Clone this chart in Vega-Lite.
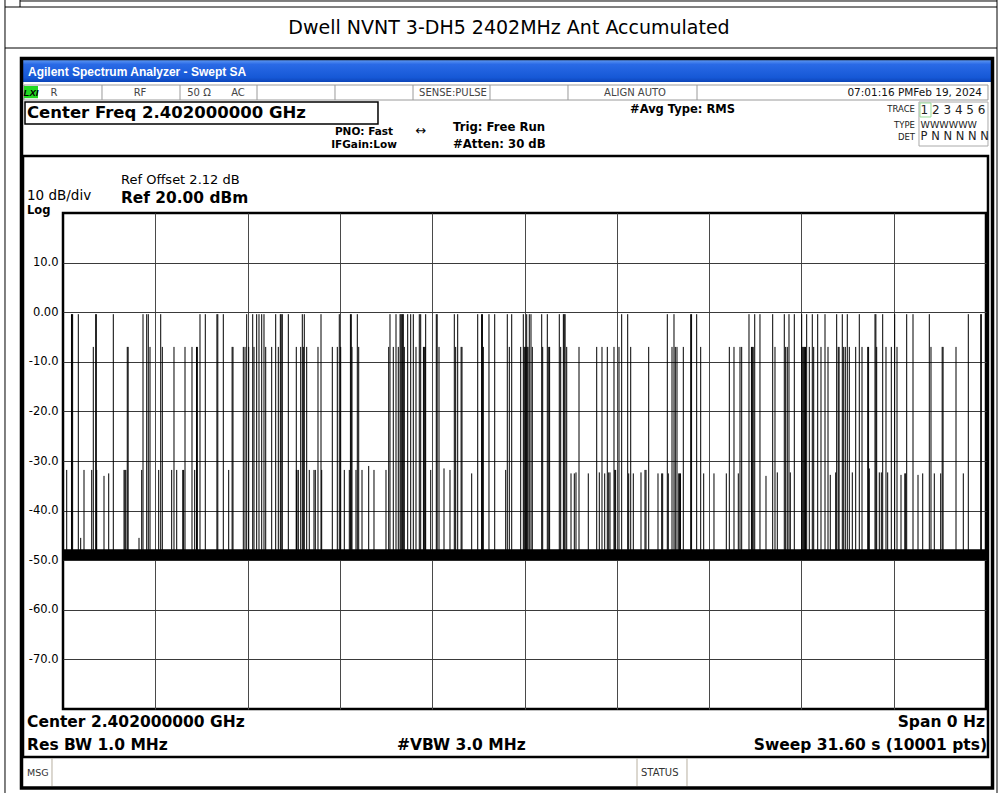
{
"$schema": "https://vega.github.io/schema/vega-lite/v6.json",
"width": 923, "height": 496,
"autosize": {"type": "none"},
"padding": {"left": 63, "top": 213, "right": 15, "bottom": 84},
"background": "white",
"config": {"view": {"stroke": "black", "strokeWidth": 2.5}},
"datasets": {
"spikes": [
{"t":0.127,"v":-31.8},{"t":0.29,"v":-0.4},{"t":0.31,"v":-0.4},{"t":0.33,"v":-0.4},{"t":0.524,"v":-0.4},{"t":0.606,"v":-45.5},{"t":0.719,"v":-31.8},{"t":0.983,"v":-31.8},{"t":1.037,"v":-7},{"t":1.12,"v":-0.4},{"t":1.14,"v":-0.4},{"t":1.154,"v":-31.8},{"t":1.404,"v":-33},{"t":1.565,"v":-32.5},{"t":1.722,"v":-0.4},{"t":2.09,"v":-31.8},{"t":2.12,"v":-31.8},{"t":2.15,"v":-31.8},{"t":2.2,"v":-7},{"t":2.23,"v":-7},{"t":2.602,"v":-45.5},{"t":2.694,"v":-31.8},{"t":2.739,"v":-0.4},{"t":2.866,"v":-0.4},{"t":2.92,"v":-0.4},{"t":2.979,"v":-7},{"t":3.276,"v":-31.8},{"t":3.345,"v":-0.4},{"t":3.4,"v":-7},{"t":3.721,"v":-31.8},{"t":3.8,"v":-7},{"t":3.893,"v":-31.8},{"t":4.1,"v":-31.8},{"t":4.13,"v":-31.8},{"t":4.177,"v":-7},{"t":4.416,"v":-7},{"t":4.509,"v":-31.8},{"t":4.57,"v":-7},{"t":4.6,"v":-7},{"t":4.69,"v":-0.4},{"t":4.872,"v":-0.4},{"t":5.27,"v":-0.4},{"t":5.3,"v":-0.4},{"t":5.488,"v":-0.4},{"t":5.673,"v":-31.8},{"t":5.79,"v":-7},{"t":5.82,"v":-7},{"t":6.173,"v":-7},{"t":6.231,"v":-7},{"t":6.289,"v":-0.4},{"t":6.358,"v":-7},{"t":6.495,"v":-0.4},{"t":6.539,"v":-7},{"t":6.631,"v":-0.4},{"t":6.71,"v":-0.4},{"t":6.803,"v":-0.4},{"t":6.881,"v":-0.4},{"t":6.94,"v":-7},{"t":7.145,"v":-7},{"t":7.282,"v":-0.4},{"t":7.371,"v":-7},{"t":7.44,"v":-0.4},{"t":7.47,"v":-0.4},{"t":7.508,"v":-0.4},{"t":7.714,"v":-0.4},{"t":7.987,"v":-7},{"t":7.99,"v":-31.8},{"t":8.01,"v":-31.8},{"t":8.056,"v":-31.8},
{"t":8.138,"v":-7},{"t":8.193,"v":-0.4},{"t":8.227,"v":-7},{"t":8.261,"v":-0.4},{"t":8.343,"v":-7},{"t":8.432,"v":-31.8},{"t":8.593,"v":-31.8},{"t":8.638,"v":-31.8},{"t":8.73,"v":-7},{"t":8.833,"v":-0.4},{"t":8.857,"v":-31.8},{"t":9.22,"v":-7},{"t":9.391,"v":-7},{"t":9.459,"v":-0.4},{"t":9.507,"v":-7},{"t":9.631,"v":-31.8},{"t":9.802,"v":-31.8},{"t":9.84,"v":-0.4},{"t":9.87,"v":-0.4},{"t":9.894,"v":-7},{"t":10.031,"v":-31.8},{"t":10.076,"v":-0.4},{"t":10.124,"v":-7},{"t":10.237,"v":-31.8},{"t":10.466,"v":-31},{"t":10.647,"v":-31.8},{"t":11.058,"v":-31.8},{"t":11.151,"v":-7},{"t":11.195,"v":-0.4},{"t":11.308,"v":-7},{"t":11.401,"v":-0.4},{"t":11.479,"v":-7},{"t":11.54,"v":-0.4},{"t":11.57,"v":-0.4},{"t":11.6,"v":-0.4},{"t":11.63,"v":-0.4},{"t":11.65,"v":-0.4},{"t":11.685,"v":-7},{"t":11.801,"v":-0.4},{"t":11.904,"v":-0.4},{"t":11.993,"v":-0.4},{"t":12.085,"v":-7},{"t":12.198,"v":-0.4},{"t":12.246,"v":-0.4},{"t":12.34,"v":-7},{"t":12.37,"v":-7},{"t":12.4,"v":-7},{"t":12.417,"v":-0.4},{"t":12.589,"v":-31.8},{"t":12.78,"v":-0.4},{"t":12.81,"v":-0.4},{"t":12.873,"v":-7},{"t":13.044,"v":-31.5},{"t":13.249,"v":-31.8},{"t":13.397,"v":-0.4},{"t":13.444,"v":-7},{"t":13.513,"v":-0.4},{"t":13.63,"v":-7},{"t":13.66,"v":-7},{"t":13.992,"v":-32.5},{"t":14.198,"v":-0.4},{"t":14.33,"v":-0.4},{"t":14.36,"v":-0.4},{"t":14.39,"v":-7},{"t":14.584,"v":-0.4},{"t":14.78,"v":-0.4},{"t":15.156,"v":-31.8},{"t":15.211,"v":-0.4},{"t":15.28,"v":-7},{"t":15.362,"v":-0.4},{"t":15.67,"v":-7},{"t":15.759,"v":-0.4},{"t":15.79,"v":-7},{"t":15.82,"v":-7},{"t":15.85,"v":-7},{"t":15.875,"v":-0.4},{"t":15.89,"v":-7},{"t":15.92,"v":-7},{"t":15.964,"v":-0.4},{"t":16.022,"v":-0.4},{"t":16.067,"v":-7},{"t":16.389,"v":-0.4},{"t":16.423,"v":-7},{"t":16.581,"v":-0.4},{"t":16.63,"v":-7},{"t":16.66,"v":-7},{"t":16.991,"v":-0.4},{"t":17.039,"v":-7},{"t":17.13,"v":-0.4},{"t":17.16,"v":-0.4},{"t":17.19,"v":-0.4},{"t":17.245,"v":-7},{"t":17.392,"v":-32.5},{"t":17.505,"v":-32.5},{"t":17.563,"v":-32.3},{"t":17.666,"v":-7},{"t":17.984,"v":-32.5},{"t":18.272,"v":-7},{"t":18.361,"v":-32.3},{"t":18.453,"v":-7},{"t":18.546,"v":-32.5},{"t":18.635,"v":-7},{"t":18.683,"v":-32.3},{"t":18.727,"v":-32.3},{"t":18.864,"v":-7},{"t":18.89,"v":-31.8},{"t":18.92,"v":-31.8},{"t":19.035,"v":-7},{"t":19.127,"v":-0.4},{"t":19.333,"v":-0.4},{"t":19.367,"v":-32.5},{"t":19.436,"v":-7},{"t":19.525,"v":-32.5},{"t":19.788,"v":-32.3},{"t":19.925,"v":-31.8},{"t":19.96,"v":-31.8},{"t":20.052,"v":-7},{"t":20.37,"v":-32.5},{"t":20.497,"v":-32.5},{"t":20.531,"v":-32.5},{"t":20.689,"v":-0.4},{"t":20.723,"v":-32.5},{"t":20.85,"v":-7},{"t":20.918,"v":-0.4},{"t":20.963,"v":-7},{"t":21.021,"v":-7},{"t":21.08,"v":-32.5},{"t":21.11,"v":-32.5},{"t":21.14,"v":-32.5},{"t":21.237,"v":-7},{"t":21.49,"v":-0.4},{"t":21.52,"v":-0.4},{"t":21.695,"v":-0.4},{"t":21.832,"v":-7},{"t":21.935,"v":-32.5},{"t":22.287,"v":-32.5},{"t":22.709,"v":-32.5},{"t":22.812,"v":-7},{"t":22.972,"v":-7},{"t":23.12,"v":-32.5},{"t":23.178,"v":-7},{"t":23.236,"v":-7},{"t":23.486,"v":-0.4},{"t":23.57,"v":-7},{"t":23.6,"v":-7},{"t":23.63,"v":-7},{"t":23.682,"v":-0.4},{"t":23.862,"v":-0.4},{"t":24.068,"v":-33},{"t":24.297,"v":-0.4},{"t":24.376,"v":-7},{"t":24.455,"v":-32.3},{"t":24.694,"v":-0.4},{"t":24.742,"v":-7},{"t":24.797,"v":-7},{"t":24.855,"v":-0.4},{"t":24.9,"v":-32.3},{"t":25.037,"v":-0.4},{"t":25.29,"v":-0.4},{"t":25.3,"v":-7},{"t":25.33,"v":-7},{"t":25.36,"v":-7},{"t":25.39,"v":-7},{"t":25.42,"v":-7},{"t":25.461,"v":-0.4},{"t":25.55,"v":-7},{"t":25.653,"v":-0.4},{"t":25.701,"v":-7},{"t":25.838,"v":-0.4},{"t":25.951,"v":-7},{"t":26.088,"v":-0.4},{"t":26.191,"v":-7},{"t":26.269,"v":-32.8},{"t":26.454,"v":-32.3},{"t":26.488,"v":-0.4},{"t":26.54,"v":-7},{"t":26.57,"v":-7},{"t":26.68,"v":-0.4},{"t":26.728,"v":-7},{"t":26.783,"v":-7},{"t":26.851,"v":-0.4},{"t":26.92,"v":-7},{"t":27.023,"v":-32.3},{"t":27.139,"v":-7},{"t":27.262,"v":-0.4},{"t":27.355,"v":-7},{"t":27.55,"v":-7},{"t":27.58,"v":-7},{"t":27.604,"v":-31.5},{"t":27.8,"v":-0.4},{"t":27.83,"v":-0.4},{"t":27.858,"v":-7},{"t":27.947,"v":-32.3},{"t":28.016,"v":-32.3},{"t":28.063,"v":-0.4},{"t":28.176,"v":-7},{"t":28.234,"v":-32.3},{"t":28.358,"v":-7},{"t":28.474,"v":-0.4},{"t":28.553,"v":-7},{"t":28.69,"v":-32.8},{"t":28.82,"v":-32.5},{"t":28.85,"v":-32.5},{"t":28.885,"v":-0.4},{"t":29.101,"v":-0.4},{"t":29.272,"v":-32.8},{"t":29.433,"v":-32.5},{"t":29.659,"v":-0.4},{"t":29.717,"v":-7},{"t":29.83,"v":-32.5},{"t":30.049,"v":-32.5},{"t":30.1,"v":-7},{"t":30.13,"v":-7},{"t":30.573,"v":-7},{"t":30.823,"v":-32.5},{"t":30.994,"v":-0.4},{"t":31.42,"v":-0.4},{"t":31.44,"v":-0.4}
],
"noise": [{"t":0,"lo":-50,"hi":-47.8},{"t":31.6,"lo":-50,"hi":-47.8}]
},
"layer": [
{"data":{"values":[{}]},"mark":{"type":"rule","color":"black","strokeWidth":1},"encoding":{"x":{"datum":-1.472},"y":{"datum":62.742},"x2":{"datum":31.977}}},
{"data":{"values":[{}]},"mark":{"type":"rule","color":"black","strokeWidth":1},"encoding":{"x":{"datum":-1.986},"y":{"datum":61.532},"x2":{"datum":31.977}}},
{"data":{"values":[{}]},"mark":{"type":"rule","color":"black","strokeWidth":1},"encoding":{"x":{"datum":-1.986},"y":{"datum":53.266},"x2":{"datum":31.977}}},
{"data":{"values":[{}]},"mark":{"type":"rule","color":"black","strokeWidth":1},"encoding":{"x":{"datum":-1.986},"y":{"datum":62.943},"y2":{"datum":-96.935}}},
{"data":{"values":[{}]},"mark":{"type":"rule","color":"black","strokeWidth":1},"encoding":{"x":{"datum":31.977},"y":{"datum":62.943},"y2":{"datum":-96.935}}},
{"data":{"values":[{}]},"mark":{"type":"rule","color":"black","strokeWidth":1},"encoding":{"x":{"datum":-1.472},"y":{"datum":62.943},"y2":{"datum":61.532}}},
{"data":{"values":[{}]},"mark":{"type":"rect","color":{"gradient":"linear","x1":0,"y1":0,"x2":0,"y2":1,"stops":[{"offset":0,"color":"#5d97f2"},{"offset":0.2,"color":"#2a6ae6"},{"offset":0.8,"color":"#1658d6"},{"offset":1,"color":"#0c44b8"}]}},"encoding":{"x":{"datum":-1.369},"x2":{"datum":31.771},"y":{"datum":50.847},"y2":{"datum":46.411}}},
{"data":{"values":[{}]},"mark":{"type":"rect","fill":"white","stroke":"#9a9a9a","strokeWidth":1},"encoding":{"x":{"datum":-1.335},"x2":{"datum":31.668},"y":{"datum":45.806},"y2":{"datum":42.782}}},
{"data":{"values":[{"d":1.335},{"d":4.006},{"d":6.642},{"d":9.312},{"d":11.983},{"d":14.619},{"d":17.289},{"d":21.706}]},"mark":{"type":"rule","color":"#9a9a9a","strokeWidth":1},"encoding":{"x":{"field":"d","type":"quantitative","title":null},"y":{"datum":45.806},"y2":{"datum":42.782}}},
{"data":{"values":[{}]},"mark":{"type":"rect","fill":"#22d822"},"encoding":{"x":{"datum":-1.335},"x2":{"datum":-0.856},"y":{"datum":45.605},"y2":{"datum":43.145}}},
{"data":{"values":[{}]},"mark":{"type":"rect","fill":null,"stroke":"black","strokeWidth":1.5},"encoding":{"x":{"datum":-1.301},"x2":{"datum":10.784},"y":{"datum":42.379},"y2":{"datum":37.944}}},
{"data":{"values":[{}]},"mark":{"type":"rect","fill":null,"stroke":"#aaaaaa","strokeWidth":1},"encoding":{"x":{"datum":29.306},"x2":{"datum":31.668},"y":{"datum":42.379},"y2":{"datum":33.508}}},
{"data":{"values":[{}]},"mark":{"type":"rect","fill":null,"stroke":"#99dd99","strokeWidth":1},"encoding":{"x":{"datum":29.34},"x2":{"datum":29.717},"y":{"datum":42.177},"y2":{"datum":39.355}}},
{"data":{"values":[{}]},"mark":{"type":"rect","fill":null,"stroke":"black","strokeWidth":2.5},"encoding":{"x":{"datum":-1.369},"x2":{"datum":31.668},"y":{"datum":31.492},"y2":{"datum":-89.677}}},
{"data":{"values":[{"d":-0.377},{"d":19.652},{"d":21.363}]},"mark":{"type":"rule","color":"#b8b0a0","strokeWidth":1},"encoding":{"x":{"field":"d","type":"quantitative","title":null},"y":{"datum":-89.879},"y2":{"datum":-95.524}}},
{"data":{"values":[{}]},"mark":{"type":"rect","fill":null,"stroke":"black","strokeWidth":3.5},"encoding":{"x":{"datum":-1.421},"x2":{"datum":31.823},"y":{"datum":51.149},"y2":{"datum":-95.927}}},
{"data":{"name":"noise"},"mark":{"type":"area","color":"black","clip":true},"encoding":{"x":{"field":"t","type":"quantitative","title":null},"y":{"field":"lo","type":"quantitative","title":null},"y2":{"field":"hi"}}},
{"data":{"name":"spikes"},"mark":{"type":"rule","color":"black","strokeWidth":1,"clip":true},
 "encoding":{
  "x":{"field":"t","type":"quantitative","title":null,"scale":{"domain":[0,31.6],"nice":false,"zero":false},
       "axis":{"values":[3.16,6.32,9.48,12.64,15.8,18.96,22.12,25.28,28.44],"labels":false,"ticks":false,"domain":false,"grid":true,"gridColor":"#4a4a4a","gridWidth":1,"gridOpacity":1,"title":null}},
  "y":{"field":"v","type":"quantitative","title":null,"scale":{"domain":[-80,20],"nice":false,"zero":false},
       "axis":{"values":[10,0,-10,-20,-30,-40,-50,-60,-70],"labelExpr":"datum.value == 0 ? '0.00' : (datum.value < 0 ? '-' : '') + format(abs(datum.value), '.1f')","ticks":false,"domain":false,"grid":true,"gridColor":"#3a3a3a","gridWidth":1,"gridOpacity":1,"labelFont":"DejaVu Sans","labelFontSize":11.5,"labelColor":"black","labelPadding":5,"title":null}},
  "y2":{"datum":-48.5}}},
{"data":{"values":[{"label":"Dwell NVNT 3-DH5 2402MHz Ant Accumulated"}]},"mark":{"type":"text","align":"center","baseline":"middle","font":"DejaVu Sans","fontSize":19,"color":"black"},"encoding":{"x":{"datum":15.269},"y":{"datum":57.298},"text":{"field":"label"}}},
{"data":{"values":[{"label":"Agilent Spectrum Analyzer - Swept SA"}]},"mark":{"type":"text","align":"left","baseline":"middle","font":"Liberation Sans","fontSize":12,"fontWeight":"bold","color":"white"},"encoding":{"x":{"datum":-1.198},"y":{"datum":48.427},"text":{"field":"label"}}},
{"data":{"values":[{"label":"LXI"}]},"mark":{"type":"text","align":"center","baseline":"middle","font":"Liberation Sans","fontSize":9.5,"fontWeight":"bold","fontStyle":"italic","color":"black"},"encoding":{"x":{"datum":-1.096},"y":{"datum":44.294},"text":{"field":"label"}}},
{"data":{"values":[{"label":"R","p":-0.308},{"label":"RF","p":2.636},{"label":"50 Ω","p":4.656},{"label":"AC","p":5.991},{"label":"SENSE:PULSE","p":13.352},{"label":"ALIGN AUTO","p":19.583}]},"mark":{"type":"text","align":"center","baseline":"middle","font":"DejaVu Sans","fontSize":10,"color":"#444444"},"encoding":{"x":{"field":"p","type":"quantitative","title":null},"y":{"datum":44.294},"text":{"field":"label"}}},
{"data":{"values":[{"label":"07:01:16 PMFeb 19, 2024"}]},"mark":{"type":"text","align":"right","baseline":"middle","font":"DejaVu Sans","fontSize":10.5,"color":"#111111"},"encoding":{"x":{"datum":31.463},"y":{"datum":44.294},"text":{"field":"label"}}},
{"data":{"values":[{"label":"Center Freq 2.402000000 GHz"}]},"mark":{"type":"text","align":"left","baseline":"middle","font":"DejaVu Sans","fontSize":16.5,"fontWeight":"bold","color":"black"},"encoding":{"x":{"datum":-1.233},"y":{"datum":40.161},"text":{"field":"label"}}},
{"data":{"values":[{"label":"PNO: Fast"}]},"mark":{"type":"text","align":"center","baseline":"middle","font":"DejaVu Sans","fontSize":10.5,"fontWeight":"bold","color":"black"},"encoding":{"x":{"datum":10.305},"y":{"datum":36.431},"text":{"field":"label"}}},
{"data":{"values":[{"label":"IFGain:Low"}]},"mark":{"type":"text","align":"center","baseline":"middle","font":"DejaVu Sans","fontSize":10.5,"fontWeight":"bold","color":"black"},"encoding":{"x":{"datum":10.305},"y":{"datum":33.609},"text":{"field":"label"}}},
{"data":{"values":[{"label":"↔"}]},"mark":{"type":"text","align":"center","baseline":"middle","font":"DejaVu Sans","fontSize":13,"color":"black"},"encoding":{"x":{"datum":12.256},"y":{"datum":36.6},"text":{"field":"label"}}},
{"data":{"values":[{"label":"Trig: Free Run"}]},"mark":{"type":"text","align":"left","baseline":"middle","font":"DejaVu Sans","fontSize":11.7,"fontWeight":"bold","color":"black"},"encoding":{"x":{"datum":13.352},"y":{"datum":37.339},"text":{"field":"label"}}},
{"data":{"values":[{"label":"#Atten: 30 dB"}]},"mark":{"type":"text","align":"left","baseline":"middle","font":"DejaVu Sans","fontSize":11.7,"fontWeight":"bold","color":"black"},"encoding":{"x":{"datum":13.352},"y":{"datum":34.012},"text":{"field":"label"}}},
{"data":{"values":[{"label":"#Avg Type: RMS"}]},"mark":{"type":"text","align":"left","baseline":"middle","font":"DejaVu Sans","fontSize":11.5,"fontWeight":"bold","color":"black"},"encoding":{"x":{"datum":19.412},"y":{"datum":40.766},"text":{"field":"label"}}},
{"data":{"values":[{"label":"TRACE"}]},"mark":{"type":"text","align":"right","baseline":"middle","font":"DejaVu Sans","fontSize":8.5,"color":"#222222"},"encoding":{"x":{"datum":29.169},"y":{"datum":40.968},"text":{"field":"label"}}},
{"data":{"values":[{"label":"TYPE"}]},"mark":{"type":"text","align":"right","baseline":"middle","font":"DejaVu Sans","fontSize":8.5,"color":"#222222"},"encoding":{"x":{"datum":29.169},"y":{"datum":37.742},"text":{"field":"label"}}},
{"data":{"values":[{"label":"DET"}]},"mark":{"type":"text","align":"right","baseline":"middle","font":"DejaVu Sans","fontSize":8.5,"color":"#222222"},"encoding":{"x":{"datum":29.169},"y":{"datum":35.323},"text":{"field":"label"}}},
{"data":{"values":[{"label":"1 2 3 4 5 6"}]},"mark":{"type":"text","align":"left","baseline":"middle","font":"DejaVu Sans","fontSize":12,"color":"#222222"},"encoding":{"x":{"datum":29.36},"y":{"datum":40.766},"text":{"field":"label"}}},
{"data":{"values":[{"label":"WWWWWW"}]},"mark":{"type":"text","align":"left","baseline":"middle","font":"DejaVu Sans","fontSize":9.5,"color":"#222222"},"encoding":{"x":{"datum":29.36},"y":{"datum":37.742},"text":{"field":"label"}}},
{"data":{"values":[{"label":"P N N N N N"}]},"mark":{"type":"text","align":"left","baseline":"middle","font":"DejaVu Sans","fontSize":11.5,"color":"#222222"},"encoding":{"x":{"datum":29.36},"y":{"datum":35.323},"text":{"field":"label"}}},
{"data":{"values":[{"label":"Ref Offset 2.12 dB"}]},"mark":{"type":"text","align":"left","baseline":"middle","font":"DejaVu Sans","fontSize":13,"color":"black"},"encoding":{"x":{"datum":1.986},"y":{"datum":26.653},"text":{"field":"label"}}},
{"data":{"values":[{"label":"Ref 20.00 dBm"}]},"mark":{"type":"text","align":"left","baseline":"middle","font":"DejaVu Sans","fontSize":15.4,"fontWeight":"bold","color":"black"},"encoding":{"x":{"datum":1.986},"y":{"datum":23.024},"text":{"field":"label"}}},
{"data":{"values":[{"label":"10 dB/div"}]},"mark":{"type":"text","align":"left","baseline":"middle","font":"DejaVu Sans","fontSize":13.5,"color":"black"},"encoding":{"x":{"datum":-1.232},"y":{"datum":23.4},"text":{"field":"label"}}},
{"data":{"values":[{"label":"Log"}]},"mark":{"type":"text","align":"left","baseline":"middle","font":"DejaVu Sans","fontSize":11.5,"fontWeight":"bold","color":"black"},"encoding":{"x":{"datum":-1.232},"y":{"datum":20.5},"text":{"field":"label"}}},
{"data":{"values":[{"label":"Center 2.402000000 GHz"}]},"mark":{"type":"text","align":"left","baseline":"middle","font":"DejaVu Sans","fontSize":15.5,"fontWeight":"bold","color":"black"},"encoding":{"x":{"datum":-1.232},"y":{"datum":-82.621},"text":{"field":"label"}}},
{"data":{"values":[{"label":"Span 0 Hz"}]},"mark":{"type":"text","align":"right","baseline":"middle","font":"DejaVu Sans","fontSize":15.5,"fontWeight":"bold","color":"black"},"encoding":{"x":{"datum":31.566},"y":{"datum":-82.621},"text":{"field":"label"}}},
{"data":{"values":[{"label":"Res BW 1.0 MHz"}]},"mark":{"type":"text","align":"left","baseline":"middle","font":"DejaVu Sans","fontSize":15.5,"fontWeight":"bold","color":"black"},"encoding":{"x":{"datum":-1.232},"y":{"datum":-87.258},"text":{"field":"label"}}},
{"data":{"values":[{"label":"#VBW 3.0 MHz"}]},"mark":{"type":"text","align":"left","baseline":"middle","font":"DejaVu Sans","fontSize":15.5,"fontWeight":"bold","color":"black"},"encoding":{"x":{"datum":11.435},"y":{"datum":-87.258},"text":{"field":"label"}}},
{"data":{"values":[{"label":"Sweep  31.60 s (10001 pts)"}]},"mark":{"type":"text","align":"right","baseline":"middle","font":"DejaVu Sans","fontSize":15.5,"fontWeight":"bold","color":"black"},"encoding":{"x":{"datum":31.634},"y":{"datum":-87.258},"text":{"field":"label"}}},
{"data":{"values":[{"label":"MSG"}]},"mark":{"type":"text","align":"left","baseline":"middle","font":"DejaVu Sans","fontSize":9.5,"color":"#333333"},"encoding":{"x":{"datum":-1.232},"y":{"datum":-92.903},"text":{"field":"label"}}},
{"data":{"values":[{"label":"STATUS"}]},"mark":{"type":"text","align":"left","baseline":"middle","font":"DejaVu Sans","fontSize":10,"color":"#333333"},"encoding":{"x":{"datum":19.789},"y":{"datum":-92.903},"text":{"field":"label"}}}
]
}
